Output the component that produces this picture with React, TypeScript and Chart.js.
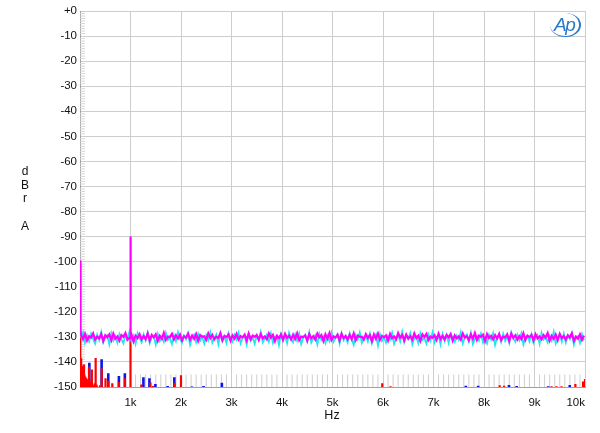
import React, { useEffect, useRef } from 'react';
import { Chart, registerables } from 'chart.js';
Chart.register(...registerables);

// ---- axis definitions ----
const X_MIN_HZ = 0;
const X_MAX_HZ = 10000;
const X_STEP_HZ = 1000;
const Y_MIN_DB = -150;
const Y_MAX_DB = 0;
const Y_STEP_DB = 10;

// ---- noise floor traces (FFT bins, evenly spaced) ----
const NOISE_START_HZ = 20;
const NOISE_STEP_HZ = 40;

const MAGENTA_NOISE = [
  -129.2,-130.9,-128.8,-131.4,-129.7,-130.3,-128.6,-131.1,-129.9,-130.6,
  -128.9,-131.7,-129.4,-130.2,-129.0,-131.3,-128.7,-130.7,-129.8,-131.5,
  -129.3,-130.0,-128.5,-131.2,-130.4,-129.1,-131.8,-129.5,-130.5,-128.9,
  -131.0,-129.7,-130.9,-128.6,-131.4,-129.2,-130.2,-129.0,-131.6,-129.6,
  -130.8,-128.4,-131.2,-129.9,-130.1,-128.8,-131.0,-129.4,-130.7,-129.1,
  -131.4,-129.7,-130.3,-128.7,-131.1,-129.5,-130.8,-128.9,-131.6,-129.3,
  -130.0,-129.8,-131.2,-128.6,-130.5,-129.2,-131.0,-129.9,-130.4,-128.5,
  -131.3,-129.6,-130.1,-129.0,-131.5,-129.4,-130.7,-128.8,-131.1,-129.7,
  -130.2,-129.1,-131.4,-128.7,-130.9,-129.5,-130.0,-129.3,-131.2,-128.9,
  -130.6,-129.8,-131.0,-128.6,-130.3,-129.2,-131.7,-129.6,-130.5,-129.0,
  -131.2,-128.8,-130.4,-129.5,-131.0,-129.1,-130.8,-128.6,-131.3,-129.9,
  -130.1,-129.4,-131.5,-128.9,-130.6,-129.7,-131.1,-128.7,-130.2,-129.3,
  -131.6,-129.0,-130.7,-128.5,-131.2,-129.8,-130.3,-129.1,-131.4,-128.8,
  -130.5,-129.6,-131.0,-129.2,-130.9,-128.6,-131.3,-129.5,-130.0,-129.9,
  -131.1,-128.9,-130.4,-129.3,-131.7,-129.0,-130.8,-128.7,-131.2,-129.6,
  -130.2,-129.4,-131.5,-128.8,-130.6,-129.8,-131.0,-128.5,-130.3,-129.2,
  -131.4,-129.1,-130.7,-129.7,-131.1,-128.6,-130.5,-129.5,-131.6,-129.0,
  -130.1,-128.8,-131.3,-129.9,-130.4,-129.3,-131.2,-128.7,-130.9,-129.6,
  -131.0,-129.2,-130.2,-128.9,-131.5,-129.4,-130.6,-129.8,-131.1,-128.6,
  -130.3,-129.7,-131.4,-129.0,-130.8,-128.5,-131.2,-129.5,-130.0,-129.1,
  -131.7,-128.9,-130.5,-129.6,-131.0,-129.3,-130.7,-128.8,-131.3,-129.9,
  -130.2,-129.0,-131.6,-128.7,-130.4,-129.4,-131.1,-129.7,-130.9,-128.6,
  -131.2,-129.5,-130.1,-129.2,-131.4,-128.9,-130.6,-129.8,-131.0,-129.3,
  -130.3,-128.5,-131.5,-129.6,-130.8,-129.1,-131.3,-128.8,-130.5,-129.7,
  -131.1,-129.4,-130.2,-128.6,-131.6,-129.9,-130.7,-129.0,-131.2,-129.5,
];

const CYAN_NOISE = [
  -130.6,-128.2,-132.4,-129.5,-131.8,-128.7,-130.9,-132.7,-129.1,-131.3,
  -128.0,-132.1,-130.2,-129.4,-133.0,-128.6,-131.5,-129.8,-132.3,-128.9,
  -131.0,-132.6,-129.2,-130.7,-127.9,-131.9,-129.6,-132.8,-128.5,-130.4,
  -132.2,-129.0,-131.4,-128.3,-132.5,-130.1,-129.7,-133.1,-128.8,-131.6,
  -129.9,-132.0,-128.4,-131.2,-130.5,-132.9,-129.3,-131.7,-128.1,-130.8,
  -132.4,-129.5,-131.0,-128.6,-133.2,-130.3,-129.1,-132.1,-128.9,-131.5,
  -130.0,-132.7,-129.4,-131.3,-128.2,-132.3,-130.6,-129.0,-133.0,-128.7,
  -131.8,-129.8,-132.5,-128.5,-130.9,-132.0,-129.2,-131.1,-128.3,-132.6,
  -130.4,-129.6,-133.1,-128.8,-131.6,-130.2,-132.8,-129.3,-131.0,-128.0,
  -132.2,-130.7,-129.1,-131.9,-128.6,-132.4,-130.1,-129.5,-133.3,-128.9,
  -131.3,-129.7,-132.6,-128.4,-130.8,-132.1,-129.0,-131.5,-128.7,-132.9,
  -130.3,-129.2,-131.8,-128.1,-132.3,-130.6,-129.4,-133.0,-128.8,-131.2,
  -130.0,-132.5,-129.6,-131.7,-128.3,-132.0,-130.4,-129.1,-132.7,-128.5,
  -131.4,-129.9,-132.2,-128.6,-130.9,-133.2,-129.3,-131.0,-128.2,-132.4,
  -130.5,-129.5,-131.9,-128.7,-132.6,-130.2,-129.0,-133.4,-128.9,-131.6,
  -130.1,-132.3,-129.7,-131.1,-128.4,-132.8,-130.7,-129.2,-131.8,-128.0,
  -132.1,-129.4,-130.8,-128.5,-133.0,-130.3,-129.8,-132.5,-128.6,-131.3,
  -130.6,-132.7,-129.1,-131.5,-128.3,-132.2,-130.0,-129.6,-133.1,-128.8,
  -131.7,-129.3,-132.4,-128.9,-130.5,-132.0,-129.5,-131.2,-128.1,-132.6,
  -130.2,-129.0,-131.9,-128.4,-132.9,-130.8,-129.7,-131.4,-128.7,-132.3,
  -130.4,-132.6,-129.2,-131.0,-128.5,-133.2,-130.1,-129.4,-132.1,-128.8,
  -131.6,-129.8,-132.5,-128.2,-130.7,-132.0,-129.1,-131.3,-128.6,-133.0,
  -130.3,-129.5,-131.8,-128.9,-132.4,-130.6,-129.3,-132.8,-128.4,-131.1,
  -130.0,-132.2,-129.6,-131.5,-128.0,-132.7,-130.5,-129.0,-131.9,-128.7,
  -132.3,-129.4,-130.9,-128.5,-133.1,-130.2,-129.7,-132.4,-128.9,-131.4,
];

// magenta: rising DC edge and 1 kHz tone
const MAGENTA_LOW_HZ = [0, 4, 8, 12, 16];
const MAGENTA_LOW_DB = [-99.5, -100, -112, -121, -127];
const MAGENTA_PEAK_HZ = [996, 1000, 1004];
const MAGENTA_PEAK_DB = [-130, -90, -130];

// red: low-frequency skirt
const RED_LOW_HZ = [2, 6, 10, 14, 18, 22, 26, 30, 35, 40, 45, 50, 55, 60, 66, 72, 78, 85, 92, 100,
  108, 116, 125, 134, 144, 155, 166, 178, 190, 204, 218, 234, 250, 268, 288, 310, 335, 360, 390, 420];
const RED_LOW_DB = [-130, -150.5, -134, -150.5, -137, -151, -138.5, -150.5, -140, -151,
  -141.5, -150.5, -142.5, -151, -143.5, -150.5, -144, -151, -145, -150.5,
  -145.8, -151, -146.5, -150.5, -147, -151, -147.6, -150.5, -148, -151,
  -148.5, -150.5, -148.9, -151, -149.2, -150.5, -149.5, -151, -149.7, -150.5];

// red: discrete components
const RED_SPIKE_HZ = [80, 178, 235, 310, 430, 505, 560, 640, 770, 890, 1000, 1216, 1395, 1448, 1870, 2000,
  5985, 6148, 8310, 8397, 9337, 9436, 9535, 9810, 9961, 10000];
const RED_SPIKE_DB = [-141, -141.9, -143, -138.4, -142.5, -146.5, -147.5, -148.5, -148, -146.5, -131.5, -149, -148.2, -149.6, -148.3, -145.3,
  -148.5, -149.7, -149.3, -149.5, -149.7, -149.7, -149.7, -148.8, -147.8, -146.8];

// blue: discrete components
const BLUE_SPIKE_HZ = [185, 428, 560, 770, 888, 1256, 1375, 1493, 1736, 1868, 2217, 2446, 2809,
  7640, 7885, 8495, 8647, 9270, 9698, 10000];
const BLUE_SPIKE_DB = [-140.3, -138.9, -144.5, -145.6, -144.5, -146.1, -146.5, -148.8, -149.6, -146.1, -149.8, -149.6, -148.3,
  -149.5, -149.5, -149.2, -149.6, -149.7, -149.2, -149];

// light grey hatch marks of the analyzer display
const HATCH_START_HZ = 1100;
const HATCH_END_HZ = 9900;
const HATCH_STEP_HZ = 100;
const HATCH_DB = [-150, -145];
const Y_HATCH_HZ = [0, 100];

type P = { x: number; y: number | null };

function zipPts(hz: number[], db: number[]): P[] {
  return hz.map((f, i) => ({ x: f, y: db[i] }));
}
function noisePts(vals: number[]): P[] {
  return vals.map((v, i) => ({ x: NOISE_START_HZ + i * NOISE_STEP_HZ, y: v }));
}
function spikePts(hz: number[], db: number[], base = -153): P[] {
  const out: P[] = [];
  hz.forEach((f, i) => {
    out.push({ x: f, y: base }, { x: f, y: db[i] }, { x: f, y: base });
  });
  return out;
}

export default function App() {
  const ref = useRef<HTMLCanvasElement | null>(null);

  useEffect(() => {
    if (!ref.current) return;

    const magenta = [...zipPts(MAGENTA_LOW_HZ, MAGENTA_LOW_DB), ...noisePts(MAGENTA_NOISE), ...zipPts(MAGENTA_PEAK_HZ, MAGENTA_PEAK_DB)]
      .sort((a, b) => a.x - b.x);
    const cyan = noisePts(CYAN_NOISE);

    const hatch: P[] = [];
    for (let f = HATCH_START_HZ; f <= HATCH_END_HZ; f += HATCH_STEP_HZ) {
      if (f % 1000 === 0) continue;
      hatch.push({ x: f, y: HATCH_DB[0] }, { x: f, y: HATCH_DB[1] }, { x: f, y: null });
    }
    const yHatch: P[] = [];
    for (let d = Y_MIN_DB + 1; d < Y_MAX_DB; d += 1) {
      if (d % 10 === 0) continue;
      yHatch.push({ x: Y_HATCH_HZ[0], y: d }, { x: Y_HATCH_HZ[1], y: d }, { x: Y_HATCH_HZ[1], y: null });
    }

    const font = { family: '"Liberation Sans", Arial, sans-serif', size: 11.5 };

    const chart = new Chart(ref.current, {
      type: 'line',
      data: {
        datasets: [
          { data: magenta, borderColor: '#ff00ff', borderWidth: 2.2, order: 0 },
          { data: cyan, borderColor: '#22e6ee', borderWidth: 1.8, order: 1 },
          { data: spikePts(RED_SPIKE_HZ, RED_SPIKE_DB), borderColor: '#ff0000', borderWidth: 2.2, order: 2 },
          { data: zipPts(RED_LOW_HZ, RED_LOW_DB), borderColor: '#ff0000', borderWidth: 1.5, order: 2 },
          { data: spikePts(BLUE_SPIKE_HZ, BLUE_SPIKE_DB), borderColor: '#0a14f0', borderWidth: 2.6, order: 3 },
          { data: hatch, borderColor: '#cfcfcf', borderWidth: 1, order: 4, spanGaps: false },
          { data: yHatch, borderColor: '#d6d6d6', borderWidth: 1, order: 4, spanGaps: false },
        ] as any,
      },
      options: {
        responsive: false,
        animation: false,
        events: [],
        layout: { padding: { top: 11, right: 15, left: 0, bottom: 0 } },
        elements: { point: { radius: 0 }, line: { tension: 0, borderJoinStyle: 'miter' } },
        plugins: { legend: { display: false }, tooltip: { enabled: false } },
        scales: {
          x: {
            type: 'linear',
            min: X_MIN_HZ,
            max: X_MAX_HZ,
            afterFit: (s: any) => { s.height = 46; },
            ticks: {
              stepSize: X_STEP_HZ,
              autoSkip: false,
              maxRotation: 0,
              align: 'inner',
              padding: 9,
              color: '#111',
              font,
              callback: (v: any) => (v === 0 ? '' : v / 1000 + 'k'),
            },
            grid: { color: '#cdcdcd', drawTicks: false },
            border: { color: '#a0a0a0' },
          },
          y: {
            type: 'linear',
            min: Y_MIN_DB,
            max: Y_MAX_DB,
            afterFit: (s: any) => { s.width = 80; },
            ticks: {
              stepSize: Y_STEP_DB,
              autoSkip: false,
              padding: 3,
              color: '#111',
              font,
              callback: (v: any) => (v === 0 ? '+0' : String(v)),
            },
            grid: { color: '#cdcdcd', drawTicks: false },
            border: { color: '#a0a0a0' },
          },
        },
      } as any,
    });
    return () => chart.destroy();
  }, []);

  const txt: React.CSSProperties = {
    position: 'absolute',
    fontFamily: '"Liberation Sans", Arial, sans-serif',
    color: '#111',
  };

  return (
    <div style={{ position: 'fixed', left: 0, top: 0, width: 600, height: 433, background: '#fff' }}>
      <canvas ref={ref} width={600} height={433} style={{ display: 'block' }} />
      <div style={{ ...txt, left: 15, top: 165, width: 20, textAlign: 'center', fontSize: 12, lineHeight: '13.7px' }}>
        d<br />B<br />r<br /><br />A
      </div>
      <div style={{ ...txt, left: 310, top: 408, width: 44, textAlign: 'center', fontSize: 12.5 }}>Hz</div>
      <div
        style={{
          position: 'absolute', left: 550, top: 13, width: 31, height: 24,
          borderRadius: '50%', borderRight: '2.5px solid #2a78c8', borderBottom: '1px solid #2a78c8', boxSizing: 'border-box',
        }}
      />
      <div
        style={{
          ...txt, left: 554, top: 13, fontSize: 19, fontStyle: 'italic', color: '#2a78c8',
          letterSpacing: '-1.5px', lineHeight: '24px',
        }}
      >
        Ap
      </div>
    </div>
  );
}
